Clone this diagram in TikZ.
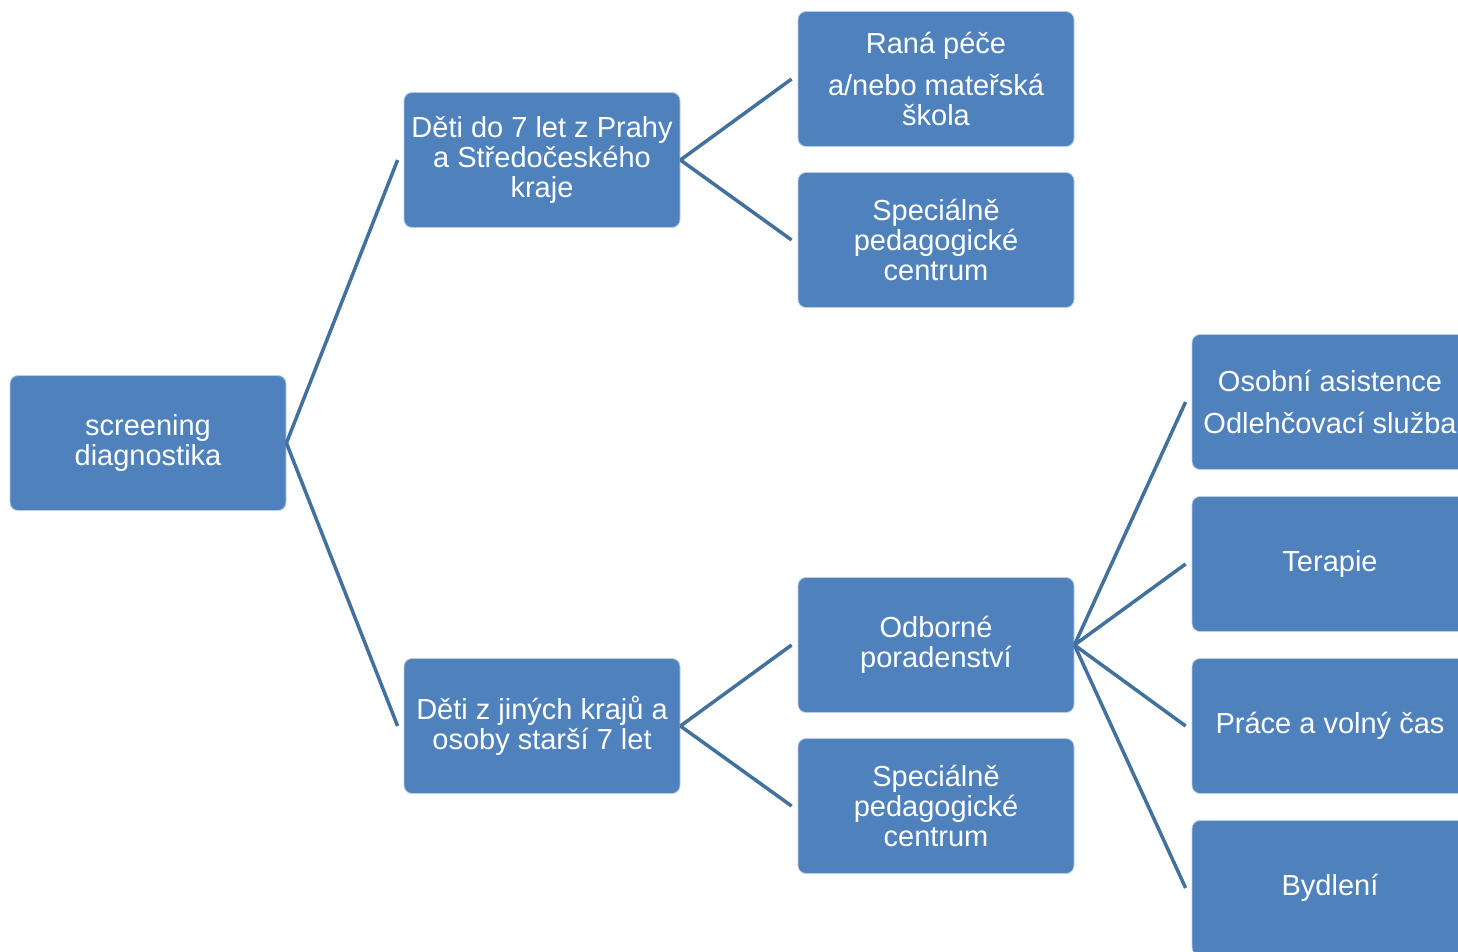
\documentclass[tikz,border=0pt]{standalone}
\usepackage{fontspec}
\setmainfont{Liberation Sans}
\definecolor{boxblue}{HTML}{4F81BD}
\definecolor{linkblue}{HTML}{41719C}
\begin{document}
\begin{tikzpicture}[x=1pt,y=1pt,
  box/.style={draw=white!60!boxblue, line width=0.8pt, fill=boxblue, rounded corners=8pt,
    minimum width=276pt, minimum height=135pt, inner sep=0pt, text=white,
    align=center, font=\fontsize{29}{30}\selectfont},
  link/.style={draw=linkblue, line width=3.5pt}]
\useasboundingbox (0,0) rectangle (1458,-952);
\node[box] (root) at (148,-443) {screening\\diagnostika};
\node[box] (A) at (542,-160) {Děti do 7 let z Prahy\\a Středočeského\\kraje};
\node[box] (B) at (542,-726) {Děti z jiných krajů a\\osoby starší 7 let};
\node[box] (A1) at (936,-79) {Raná péče\\[12pt]a/nebo mateřská\\škola};
\node[box] (A2) at (936,-240) {Speciálně\\pedagogické\\centrum};
\node[box] (B1) at (936,-645) {Odborné\\poradenství};
\node[box] (B2) at (936,-806) {Speciálně\\pedagogické\\centrum};
\node[box] (C1) at (1330,-402) {Osobní asistence\\[12pt]Odlehčovací služba};
\node[box] (C2) at (1330,-564) {Terapie};
\node[box] (C3) at (1330,-726) {Práce a volný čas};
\node[box] (C4) at (1330,-888) {Bydlení};
\coordinate (Ain) at ([xshift=-6pt]A.west);
\coordinate (Bin) at ([xshift=-6pt]B.west);
\coordinate (A1in) at ([xshift=-6pt]A1.west);
\coordinate (A2in) at ([xshift=-6pt]A2.west);
\coordinate (B1in) at ([xshift=-6pt]B1.west);
\coordinate (B2in) at ([xshift=-6pt]B2.west);
\coordinate (C1in) at ([xshift=-6pt]C1.west);
\coordinate (C2in) at ([xshift=-6pt]C2.west);
\coordinate (C3in) at ([xshift=-6pt]C3.west);
\coordinate (C4in) at ([xshift=-6pt]C4.west);
\draw[link] (root.east) -- (Ain);
\draw[link] (root.east) -- (Bin);
\draw[link] (A.east) -- (A1in);
\draw[link] (A.east) -- (A2in);
\draw[link] (B.east) -- (B1in);
\draw[link] (B.east) -- (B2in);
\draw[link] (B1.east) -- (C1in);
\draw[link] (B1.east) -- (C2in);
\draw[link] (B1.east) -- (C3in);
\draw[link] (B1.east) -- (C4in);
\end{tikzpicture}
\end{document}
